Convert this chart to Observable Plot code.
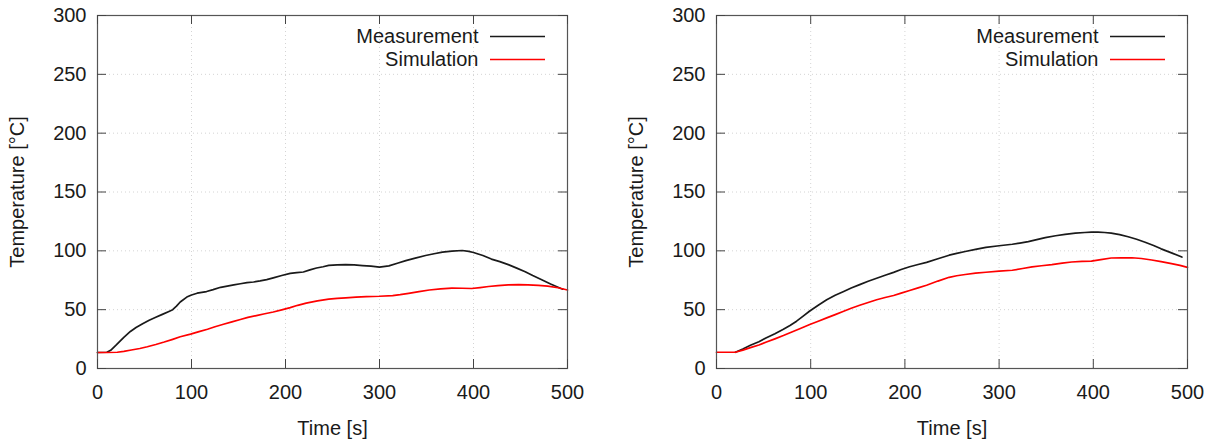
<!DOCTYPE html>
<html><head><meta charset="utf-8">
<script src="https://cdn.jsdelivr.net/npm/d3@7"></script>
<script src="https://cdn.jsdelivr.net/npm/@observablehq/plot@0.6"></script>
<style>
body{margin:0;background:#fff;}
#wrap{display:flex;width:1215px;height:443px;}
svg{display:block;}
</style>
</head><body><div id="wrap"></div>
<script>
// ---- tick values / labels ----
const xTicks = [0, 100, 200, 300, 400, 500];
const yTicks = [0, 50, 100, 150, 200, 250, 300];
const xGrid = [100, 200, 300, 400];
const yGrid = [50, 100, 150, 200, 250];
const xLabel = "Time [s]";
const yLabel = "Temperature [°C]";
const seriesNames = ["Measurement", "Simulation"];
const seriesColors = ["#1a1a1a", "#ff0000"];

// ---- left panel ----
const leftMeasT = [0,10,14,20,28,35,41,48,55,62,69,76,80,84,88,95,100,106,116,123,131,138,145,152,159,166,173,180,187,196,205,212,219,226,233,240,246,255,264,273,282,291,300,310,319,328,338,349,358,367,377,388,395,400,410,419,428,437,446,455,463,472,482,493,495];
const leftMeasV = [13.6,13.8,15.5,20,26.4,31.5,34.8,38,41,43.5,46,48.5,50,53,56.5,60.7,62.5,64,65.4,67,69,70,71,72,73,73.5,74.4,75.5,77,79,80.9,81.5,82,83.8,85.4,86.5,87.6,88,88.3,88,87.5,87,86.1,87.2,89.5,91.7,93.8,96,97.5,98.9,99.8,100.3,99.5,98.6,96,93,90.8,88.3,85.3,82.2,79,75.6,71.8,68,67.5];
const leftSimT = [0,10,21,28,36,45,53,62,71,80,88,99,108,117,125,134,143,152,160,169,178,187,196,205,213,222,234,246,255,264,275,286,300,314,322,331,342,353,365,377,388,398,407,416,426,437,448,458,469,479,490,500];
const leftSimV = [13.6,13.6,13.8,14.6,15.7,17,18.5,20.4,22.5,24.8,27,29.2,31.3,33.4,35.5,37.6,39.6,41.6,43.4,45,46.5,48,49.8,51.7,53.7,55.6,57.4,59,59.6,60,60.6,61.1,61.4,62,62.8,63.9,65.4,66.7,67.6,68.3,68.2,68,68.8,69.7,70.5,71.1,71.2,71.1,70.7,70,68.6,66.7];

// ---- right panel ----
const rightMeasT = [20,28,36,45,53,62,71,78,85,92,99,108,117,126,135,143,152,161,170,179,188,196,205,214,223,235,247,255,264,275,286,300,314,322,331,340,349,360,370,381,391,398,405,412,419,428,437,446,455,464,472,483,494];
const rightMeasV = [13.8,16.5,19.7,22.8,26.1,29.6,33.4,36.6,40.2,44.5,48.9,53.8,58.4,62.2,65.4,68.4,71.3,74.1,76.7,79.3,81.7,84.1,86.5,88.4,90.2,93.3,96.3,97.8,99.4,101.3,103,104.3,105.6,106.6,107.8,109.5,111.2,112.8,114,115,115.6,115.9,115.9,115.6,115.1,113.8,112,109.8,107.3,104.5,101.7,98.3,94.7];
const rightSimT = [0,10,20,28,36,45,53,62,71,80,89,99,108,117,126,135,143,152,161,170,179,188,196,205,214,223,235,247,255,264,275,286,300,314,325,335,345,356,367,377,388,398,408,419,430,441,451,462,472,483,492,500];
const rightSimV = [13.8,13.8,13.8,15.6,17.7,20,22.5,25.2,28,31,34,37.4,40.2,43,45.8,48.6,51.2,53.7,56.1,58.4,60.3,62,64.1,66.3,68.5,70.8,74.3,77.5,78.8,79.9,81,81.8,82.7,83.5,85,86.3,87.3,88.3,89.5,90.5,91,91.3,92.6,93.9,94.1,94.1,93.5,92.2,90.8,89.1,87.6,86];

const H = 443, MT = 15, MB = 75;
const FONT = "'Liberation Sans', Arial, Helvetica, sans-serif";
const TXT = "#1a1a1a";

function toRows(T, V) { return T.map((t, i) => ({t, v: V[i]})); }

function panel(series, width, marginLeft, marginRight) {
  const innerW = width - marginLeft - marginRight;
  const innerH = H - MT - MB;
  const tickLen = 9;
  const marks = [
    Plot.gridX(xGrid, {stroke: "#d4d4d4", strokeOpacity: 1, strokeDasharray: "1,3"}),
    Plot.gridY(yGrid, {stroke: "#d4d4d4", strokeOpacity: 1, strokeDasharray: "1,3"}),
  ];
  series.forEach((rows, i) => {
    marks.push(Plot.line(rows, {x: "t", y: "v", stroke: seriesColors[i], strokeWidth: 1.7}));
  });
  marks.push(
    Plot.frame({stroke: "#555", strokeWidth: 1.2}),
    Plot.tickX(xTicks, {x: d => d, insetTop: innerH - tickLen, stroke: "#444"}),
    Plot.tickX(xTicks, {x: d => d, insetBottom: innerH - tickLen, stroke: "#444"}),
    Plot.tickY(yTicks, {y: d => d, insetRight: innerW - tickLen, stroke: "#444"}),
    Plot.tickY(yTicks, {y: d => d, insetLeft: innerW - tickLen, stroke: "#444"}),
    Plot.axisX(xTicks, {tickSize: 0, tickPadding: 16, fontSize: 20, fill: TXT,
      label: xLabel, labelAnchor: "center", labelOffset: 66, labelArrow: "none"}),
    Plot.axisY(yTicks, {tickSize: 0, tickPadding: 11, fontSize: 20, fill: TXT,
      label: yLabel, labelAnchor: "center", labelOffset: 88, labelArrow: "none"})
  );
  // legend (top-right inside the frame)
  const center = (MT + H - MB) / 2;
  seriesNames.forEach((name, i) => {
    const yRow = MT + 21 + i * 23;
    marks.push(
      Plot.text([name], {frameAnchor: "top-right", text: d => d, textAnchor: "end",
        lineAnchor: "middle", dx: -89, dy: 21 + i * 23, fontSize: 20, fill: TXT}),
      Plot.ruleY([name], {y: null, stroke: seriesColors[i], strokeWidth: 1.7,
        insetLeft: innerW - 77, insetRight: 22, dy: yRow - center})
    );
  });
  return Plot.plot({
    width, height: H, marginTop: MT, marginBottom: MB, marginLeft, marginRight,
    x: {domain: [0, 500]},
    y: {domain: [0, 300]},
    style: {fontFamily: FONT, fontSize: "20px", color: TXT, background: "#fff", overflow: "visible"},
    marks
  });
}

const wrap = document.getElementById("wrap");
wrap.append(panel([toRows(leftMeasT, leftMeasV), toRows(leftSimT, leftSimV)], 607, 97, 40));
wrap.append(panel([toRows(rightMeasT, rightMeasV), toRows(rightSimT, rightSimV)], 608, 109, 28));
</script>
</body></html>
